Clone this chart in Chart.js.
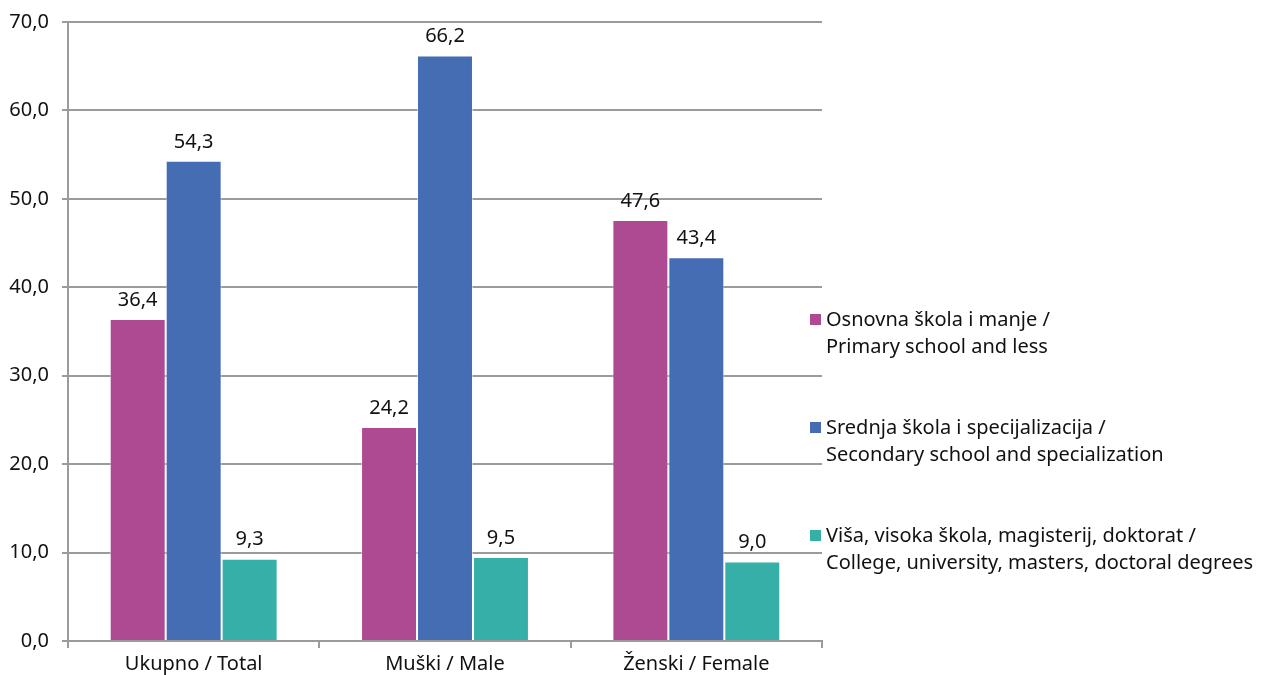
<!DOCTYPE html>
<html>
<head>
<meta charset="utf-8">
<script src="https://cdn.jsdelivr.net/npm/chart.js@4"></script>
<style>
  html, body { margin: 0; padding: 0; background: #fff; }
  #wrap { position: relative; width: 1265px; height: 675px; }
  #legend { position: absolute; left: 810px; top: 305px; font-family: "Noto Sans", sans-serif; font-size: 20px; color: #111; white-space: nowrap; }
  .item { position: relative; padding-left: 16px; line-height: 27px; height: 108px; }
  .box { position: absolute; left: 0; top: 9px; width: 11px; height: 11px; }
</style>
</head>
<body>
<div id="wrap">
  <canvas id="chart" width="1265" height="675"></canvas>
  <div id="legend"></div>
</div>
<script>
var categories = ['Ukupno / Total', 'Muški / Male', 'Ženski / Female'];
var primary = [36.4, 24.2, 47.6];
var secondary = [54.3, 66.2, 43.4];
var college = [9.3, 9.5, 9.0];
var seriesLabels = [
  ['Osnovna škola i manje /', 'Primary school and less'],
  ['Srednja škola i specijalizacija /', 'Secondary school and specialization'],
  ['Viša, visoka škola, magisterij, doktorat /', 'College, university, masters, doctoral degrees']
];
var colors = ['#ad4a91', '#456db4', '#36afa9'];
var gridColor = '#9b9b9b';
var fontFamily = '"Noto Sans", sans-serif';

function fmt(v) { return v.toFixed(1).replace('.', ','); }

var valueLabels = {
  id: 'valueLabels',
  afterDatasetsDraw: function(chart) {
    var ctx = chart.ctx;
    ctx.save();
    ctx.font = '20px ' + fontFamily;
    ctx.fillStyle = '#111';
    ctx.textAlign = 'center';
    ctx.textBaseline = 'bottom';
    chart.data.datasets.forEach(function(ds, i) {
      chart.getDatasetMeta(i).data.forEach(function(bar, j) {
        ctx.fillText(fmt(ds.data[j]), bar.x, bar.y - 9);
      });
    });
    ctx.restore();
  }
};

var datasets = [primary, secondary, college].map(function(d, i) {
  return {
    label: seriesLabels[i].join(' '),
    data: d,
    backgroundColor: colors[i],
    borderColor: 'rgba(255,255,255,0.5)',
    borderWidth: 1
  };
});

new Chart(document.getElementById('chart'), {
  type: 'bar',
  data: { labels: categories, datasets: datasets },
  plugins: [valueLabels],
  options: {
    responsive: false,
    animation: false,
    layout: { padding: { top: 22, right: 443, left: 0, bottom: 0 } },
    categoryPercentage: 0.668,
    barPercentage: 1,
    plugins: { legend: { display: false }, tooltip: { enabled: false } },
    scales: {
      x: {
        afterFit: function(s) { s.height = 34; },
        grid: { drawOnChartArea: false, drawTicks: true, tickLength: 7, color: gridColor, lineWidth: 2, offset: true },
        border: { color: gridColor, width: 2 },
        ticks: { color: '#111', font: { family: fontFamily, size: 20 }, padding: 4 }
      },
      y: {
        min: 0,
        max: 70,
        afterFit: function(s) { s.width = 68; s.paddingTop = 0; s.paddingBottom = 0; },
        grid: { color: gridColor, lineWidth: 2, tickLength: 6 },
        border: { color: gridColor, width: 2 },
        ticks: {
          stepSize: 10,
          color: '#111',
          padding: 13,
          font: { family: fontFamily, size: 20 },
          callback: function(v) { return fmt(v); }
        }
      }
    }
  }
});

var legend = document.getElementById('legend');
seriesLabels.forEach(function(lines, i) {
  var item = document.createElement('div');
  item.className = 'item';
  item.innerHTML = '<span class="box" style="background:' + colors[i] + '"></span>' + lines.join('<br>');
  legend.appendChild(item);
});
</script>
</body>
</html>
